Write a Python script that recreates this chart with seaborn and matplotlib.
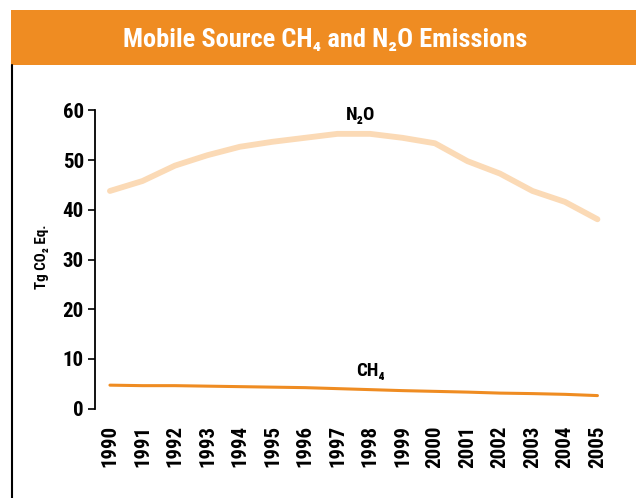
import matplotlib
matplotlib.use("Agg")
import matplotlib.pyplot as plt
from matplotlib import font_manager
from matplotlib.font_manager import FontProperties
from matplotlib.patches import Rectangle
from matplotlib.lines import Line2D
import seaborn as sns
import pandas as pd

years = list(range(1990, 2006))
n2o = [43.8, 45.8, 48.9, 51.0, 52.7, 53.7, 54.5, 55.3, 55.3, 54.5, 53.4, 49.8, 47.3, 43.8, 41.6, 38.1]
ch4 = [4.7, 4.6, 4.6, 4.5, 4.4, 4.3, 4.2, 4.0, 3.8, 3.6, 3.45, 3.3, 3.1, 3.0, 2.85, 2.6]
y_ticks = [0, 10, 20, 30, 40, 50, 60]

title = "Mobile Source CH\u2084 and N\u2082O Emissions"
y_label = "Tg CO\u2082 Eq."
n2o_label = "N\u2082O"
ch4_label = "CH\u2084"

ORANGE = "#EF8C22"
PEACH = "#FBDAB6"

sns.set_style("white")


def pick_condensed_bold():
    """Find a bold condensed/narrow face among the installed fonts."""
    best = None
    for f in font_manager.fontManager.ttflist:
        name = f.name.lower()
        fname = f.fname.lower()
        w = f.weight if isinstance(f.weight, int) else (700 if "bold" in str(f.weight) else 400)
        narrowish = ("narrow" in name or "condensed" in name or "narrow" in fname
                     or "condensed" in fname or "condensed" in str(f.stretch))
        if not narrowish or w < 600 or "oblique" in fname or "italic" in fname:
            continue
        rank = 0
        if "liberation" in name:
            rank = 3
        elif "roboto" in name:
            rank = 2
        elif "dejavu" in name:
            rank = 1
        if best is None or rank > best[0]:
            best = (rank, f.fname)
    return best[1] if best else None


path = pick_condensed_bold()


def fp(size):
    if path:
        return FontProperties(fname=path, size=size)
    return FontProperties(family="DejaVu Sans", weight="bold", stretch="condensed", size=size)


df = pd.DataFrame({"year": years + years,
                   "value": n2o + ch4,
                   "gas": ["N2O"] * len(years) + ["CH4"] * len(years)})

fig = plt.figure(figsize=(6.36, 4.98), dpi=100)
fig.patch.set_facecolor("white")

# header band
fig.patches.append(Rectangle((11 / 636, 1 - 65.5 / 498), 1 - 11 / 636, 55.5 / 498,
                             transform=fig.transFigure, facecolor=ORANGE,
                             edgecolor="none", zorder=0))
fig.text(325 / 636, 1 - 40 / 498, title, color="white", fontproperties=fp(19),
         ha="center", va="center")
# left rule under the header
fig.lines.append(Line2D([11.5 / 636, 11.5 / 636], [0, 1 - 65.5 / 498],
                        transform=fig.transFigure, color="black", lw=1.5))

ax = fig.add_axes([95 / 636, 1 - 408.5 / 498, (613.7 - 95) / 636, (408.5 - 110.5) / 498])
sns.lineplot(data=df, x="year", y="value", hue="gas",
             palette={"N2O": PEACH, "CH4": ORANGE}, ax=ax, legend=False)
for line, lw in zip(ax.get_lines(), [4.2, 2.2]):
    line.set_linewidth(lw)
    line.set_solid_capstyle("round")

ax.set_xlim(1989.54, 2005.5)
ax.set_ylim(0, 60)
ax.set_yticks(y_ticks)
ax.set_yticklabels([str(t) for t in y_ticks], fontproperties=fp(15), color="black")
ax.set_xticks(years)
ax.set_xticklabels([str(y) for y in years], rotation=90, fontproperties=fp(15), color="black")
ax.tick_params(axis="y", direction="out", length=5, width=1.2, color="black", pad=3, left=True)
ax.tick_params(axis="x", length=0, pad=12)
for side in ["top", "right", "bottom"]:
    ax.spines[side].set_visible(False)
ax.spines["left"].set_color("black")
ax.spines["left"].set_linewidth(1.3)
ax.set_xlabel("")
ax.set_ylabel("")

fig.text(42 / 636, 1 - 257 / 498, y_label, rotation=90, fontproperties=fp(10.8),
         color="black", ha="center", va="center")
ax.text(1997.7, 59.0, n2o_label, fontproperties=fp(13.5), color="black", ha="center", va="center")
ax.text(1998.0, 7.5, ch4_label, fontproperties=fp(13.5), color="black", ha="center", va="center")

fig.savefig("out.png", dpi=100)
